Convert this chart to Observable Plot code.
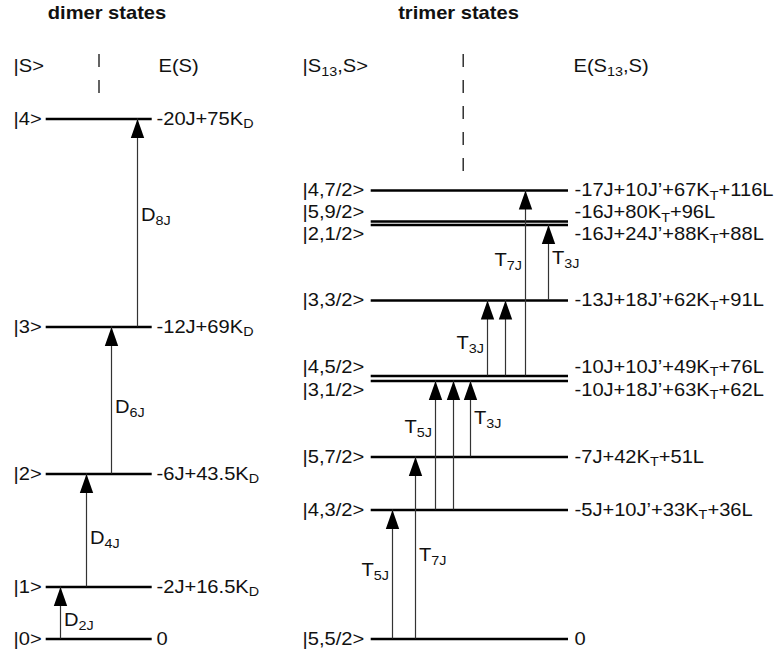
<!DOCTYPE html>
<html><head><meta charset="utf-8">
<script src="https://cdn.jsdelivr.net/npm/d3@7"></script>
<script src="https://cdn.jsdelivr.net/npm/@observablehq/plot@0.6"></script>
<style>html,body{margin:0;padding:0;background:#fff}</style>
</head><body><div id="chart"></div>
<script>
// ================= DATA =================
const panelTitles = ["dimer states", "trimer states"];
const columnHeads = ["|S>", "E(S)", "|S_{13},S>", "E(S_{13},S)"];

// dimer levels (schematic level height, ground = 0)
const dimerStates = ["|0>", "|1>", "|2>", "|3>", "|4>"];
const dimerEnergies = ["0", "-2J+16.5K_{D}", "-6J+43.5K_{D}", "-12J+69K_{D}", "-20J+75K_{D}"];
const dimerLevels = [0, 52, 165, 312, 520];

// trimer levels
const trimerStates = ["|5,5/2>", "|4,3/2>", "|5,7/2>", "|3,1/2>", "|4,5/2>", "|3,3/2>", "|2,1/2>", "|5,9/2>", "|4,7/2>"];
const trimerEnergies = ["0", "-5J+10J’+33K_{T}+36L", "-7J+42K_{T}+51L", "-10J+18J’+63K_{T}+62L",
  "-10J+10J’+49K_{T}+76L", "-13J+18J’+62K_{T}+91L", "-16J+24J’+88K_{T}+88L", "-16J+80K_{T}+96L",
  "-17J+10J’+67K_{T}+116L"];
const trimerLevels = [0, 129, 182, 258, 263, 338.5, 414, 417.5, 448.5];

// transitions (indices into the level lists)
const dimerFrom = [0, 1, 2, 3];
const dimerTo = [1, 2, 3, 4];
const dimerLabels = ["D_{2J}", "D_{4J}", "D_{6J}", "D_{8J}"];

const trimerFrom = [0, 0, 1, 1, 2, 4, 4, 4, 5];
const trimerTo = [1, 2, 3, 3, 3, 5, 5, 8, 6];
const trimerLabels = ["T_{5J}", "T_{7J}", "T_{5J}", null, "T_{3J}", "T_{3J}", null, "T_{7J}", "T_{3J}"];

// ================= LAYOUT =================
const W = 776, H = 656, BASE = 638.5;
const FONT = "'Liberation Sans', Arial, Helvetica, sans-serif";
const FS = 17.5, SUB_FS = 12.5, SUB_SHIFT = 3.5, STRETCH = 1.15, PAIR_OFFSET = 9;
const panelLayout = [
  {x1: 45.7, x2: 151.7, stateX: 13, energyX: 156, titleX: 106.5, sepX: 98.5, sepTop: 584.5, sepBottom: 545.5, headX: [13, 158]},
  {x1: 370.7, x2: 568, stateX: 302, energyX: 574, titleX: 458, sepX: 462.7, sepTop: 584.5, sepBottom: 467.5, headX: [302, 573]}
];
const titleLevel = 625.5, headLevel = 572.5;
const dimerArrowX = [60, 86, 111, 137];
const dimerLabelSide = ["right", "right", "right", "right"];
const dimerLabelLevel = [18.5, 100.5, 231.5, 423.5];
const trimerArrowX = [392, 415, 435, 453, 470, 487, 505, 525, 548];
const trimerLabelSide = ["left", "right", "left", null, "right", "left", null, "left", "right"];
const trimerLabelLevel = [68.5, 83.5, 211.5, null, 220.5, 295.5, null, 378.5, 380.5];

// ================= BUILD ROWS =================
function buildLevels(p, states, energies, levels) {
  return states.map((s, i) => {
    const E = levels[i];
    const partner = levels.findIndex((e, j) => j !== i && Math.abs(e - E) < 8);
    let labelE = E;
    if (partner >= 0) labelE = levels[partner] < E ? E + PAIR_OFFSET : E - PAIR_OFFSET;
    return {panel: p, state: s, energy: energies[i], E, labelE};
  });
}
const levelRows = [
  ...buildLevels(0, dimerStates, dimerEnergies, dimerLevels),
  ...buildLevels(1, trimerStates, trimerEnergies, trimerLevels)
];
function buildTransitions(p, from, to, labels, levels, xs, sides, labelLevels) {
  return from.map((f, i) => ({panel: p, x: xs[i], y1: levels[f], y2: levels[to[i]],
    label: labels[i], side: sides[i], labelE: labelLevels[i]}));
}
const transRows = [
  ...buildTransitions(0, dimerFrom, dimerTo, dimerLabels, dimerLevels, dimerArrowX, dimerLabelSide, dimerLabelLevel),
  ...buildTransitions(1, trimerFrom, trimerTo, trimerLabels, trimerLevels, trimerArrowX, trimerLabelSide, trimerLabelLevel)
];
const titleRows = panelTitles.map((t, p) => ({text: t, x: panelLayout[p].titleX, y: titleLevel}));
const headRows = columnHeads.map((t, i) => ({text: t, x: panelLayout[Math.floor(i / 2)].headX[i % 2], y: headLevel}));
const sepRows = panelLayout.map(l => ({x: l.sepX, y1: l.sepTop, y2: l.sepBottom}));

// filled arrowhead with its tip at the anchor point
const arrowHead = {
  draw(ctx) { ctx.moveTo(0, 0); ctx.lineTo(6.7, 19); ctx.lineTo(-6.7, 19); ctx.closePath(); }
};

const chart = Plot.plot({
  width: W, height: H, margin: 0,
  x: {domain: [0, W], range: [0, W], axis: null},
  y: {domain: [BASE - H, BASE], range: [H, 0], axis: null},
  style: {fontFamily: FONT, fontSize: FS + "px", background: "#fff", color: "#111"},
  marks: [
    Plot.ruleX(sepRows, {x: "x", y1: "y1", y2: "y2", stroke: "#222", strokeWidth: 1.4, strokeDasharray: "13,13"}),
    Plot.ruleY(levelRows, {y: "E", x1: d => panelLayout[d.panel].x1, x2: d => panelLayout[d.panel].x2,
      stroke: "#000", strokeWidth: 2.6}),
    Plot.ruleX(transRows, {x: "x", y1: "y1", y2: "y2", stroke: "#333", strokeWidth: 1.2}),
    Plot.dot(transRows, {x: "x", y: "y2", symbol: arrowHead, fill: "#000", stroke: "none"}),
    Plot.text(levelRows, {x: d => panelLayout[d.panel].stateX, y: "labelE", text: "state", textAnchor: "start", fill: "#111"}),
    Plot.text(levelRows, {x: d => panelLayout[d.panel].energyX, y: "labelE", text: "energy", textAnchor: "start", fill: "#111"}),
    Plot.text(transRows.filter(d => d.side === "right"), {x: d => d.x + 3.5, y: "labelE", text: "label", textAnchor: "start", fill: "#111"}),
    Plot.text(transRows.filter(d => d.side === "left"), {x: d => d.x - 3.5, y: "labelE", text: "label", textAnchor: "end", fill: "#111"}),
    Plot.text(titleRows, {x: "x", y: "y", text: "text", fontWeight: "bold", textAnchor: "middle", fill: "#111"}),
    Plot.text(headRows, {x: "x", y: "y", text: "text", textAnchor: "start", fill: "#111"})
  ]
});

// subscripts (_{...}) and horizontal stretch of the lettering
const NS = "http://www.w3.org/2000/svg";
chart.querySelectorAll("text").forEach(t => {
  const s = t.textContent;
  if (s.includes("_{")) {
    t.textContent = "";
    const re = /_\{([^}]*)\}/g;
    let last = 0, m, shifted = false;
    const add = (str, sub) => {
      const ts = document.createElementNS(NS, "tspan");
      ts.textContent = str;
      if (sub) { ts.setAttribute("font-size", SUB_FS); ts.setAttribute("dy", SUB_SHIFT); shifted = true; }
      else if (shifted) { ts.setAttribute("dy", -SUB_SHIFT); shifted = false; }
      t.appendChild(ts);
    };
    while ((m = re.exec(s))) {
      if (m.index > last) add(s.slice(last, m.index), false);
      add(m[1], true);
      last = re.lastIndex;
    }
    if (last < s.length) add(s.slice(last), false);
  }
  const tr = t.getAttribute("transform") || "";
  t.setAttribute("transform", tr + ` scale(${STRETCH},1)`);
});

document.getElementById("chart").appendChild(chart);
</script>
</body></html>
